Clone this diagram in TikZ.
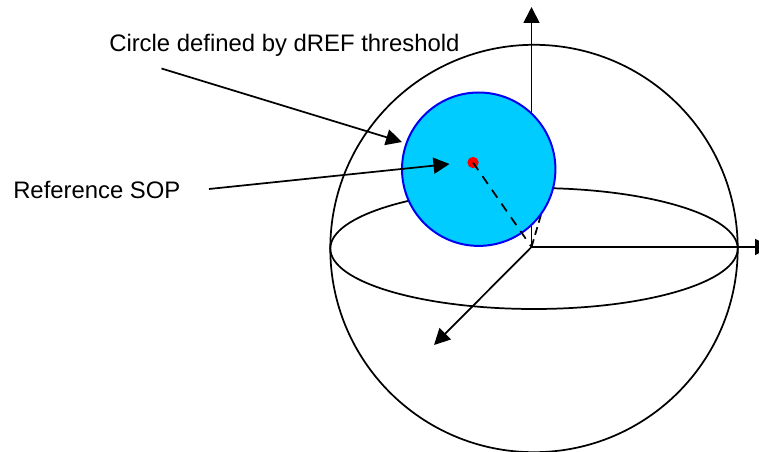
\documentclass[tikz,border=0pt]{standalone}
\usepackage{fontspec}
\setmainfont{Liberation Sans}
\usetikzlibrary{arrows.meta}
\tikzset{px/.style={x=0.75pt,y=-0.75pt},
ln/.style={line width=1.3pt,black},
arr/.style={ln,-{Triangle[length=12pt,width=12pt]}},
lbl/.style={font=\fontsize{17.9pt}{21pt}\selectfont,inner sep=0pt,anchor=west,text=black}}
\definecolor{capblue}{RGB}{0,204,255}
\begin{document}
\begin{tikzpicture}[px]
\useasboundingbox (0,0) rectangle (759,452);
\clip (0,0) rectangle (759,452);
\coordinate (c) at (534,248.5);
\draw[ln] (c) circle (203.7);
\draw[ln] (c) ellipse (203.7 and 60.5);
\coordinate (o) at (531.5,247);
\coordinate (top) at (531.5,7);
\coordinate (right) at (771,247);
\coordinate (dl) at (434,345);
\draw[arr] (o) -- (top);
\draw[arr] (o) -- (right);
\draw[arr] (o) -- (dl);
\coordinate (ref) at (473,162.5);
\coordinate (bend) at (541.5,213);
\draw[ln,dash pattern=on 6pt off 3.5pt] (o) -- (bend);
\draw[line width=1.5pt,draw={rgb,255:red,0;green,0;blue,240},fill=capblue] (478.7,169.2) circle (76.7);
\node[circle,fill=red,minimum size=8.5pt,inner sep=0pt] (dot) at (ref) {};
\draw[ln,dash pattern=on 7pt off 5.5pt] (ref) -- (o);
\node[lbl] (t1) at (109,45.5) {Circle defined by dREF threshold};
\node[lbl] (t2) at (13,189.5) {Reference SOP};
\coordinate (a1s) at (161.5,68.5);
\coordinate (a1e) at (402,142);
\coordinate (a2s) at (209,189);
\coordinate (a2e) at (449.5,164);
\draw[arr] (a1s) -- (a1e);
\draw[arr] (a2s) -- (a2e);
\end{tikzpicture}
\end{document}
